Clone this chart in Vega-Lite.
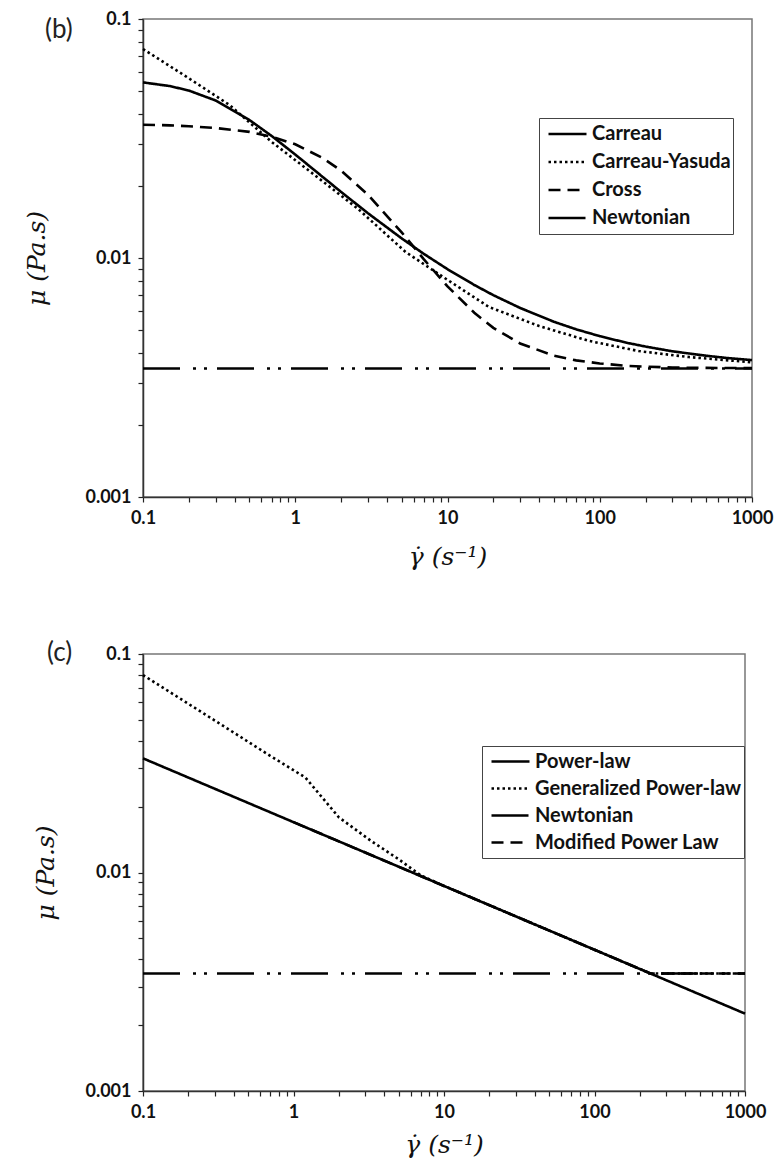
{
  "$schema": "https://vega.github.io/schema/vega-lite/v6.json",
  "background": "white",
  "padding": {"left": 24, "top": 9, "right": 5, "bottom": 5},
  "datasets": {
    "b": [
      {"model": "Carreau", "x": 0.1, "mu": 0.0543},
      {"model": "Carreau", "x": 0.15, "mu": 0.0524},
      {"model": "Carreau", "x": 0.2, "mu": 0.0502},
      {"model": "Carreau", "x": 0.3, "mu": 0.0456},
      {"model": "Carreau", "x": 0.5, "mu": 0.0378},
      {"model": "Carreau", "x": 0.7, "mu": 0.0324},
      {"model": "Carreau", "x": 1, "mu": 0.0271},
      {"model": "Carreau", "x": 1.5, "mu": 0.02195},
      {"model": "Carreau", "x": 2, "mu": 0.0189},
      {"model": "Carreau", "x": 3, "mu": 0.0154},
      {"model": "Carreau", "x": 5, "mu": 0.01208},
      {"model": "Carreau", "x": 7, "mu": 0.0104},
      {"model": "Carreau", "x": 10, "mu": 0.00898},
      {"model": "Carreau", "x": 15, "mu": 0.00771},
      {"model": "Carreau", "x": 20, "mu": 0.00699},
      {"model": "Carreau", "x": 30, "mu": 0.00618},
      {"model": "Carreau", "x": 50, "mu": 0.00541},
      {"model": "Carreau", "x": 70, "mu": 0.00503},
      {"model": "Carreau", "x": 100, "mu": 0.00471},
      {"model": "Carreau", "x": 150, "mu": 0.00442},
      {"model": "Carreau", "x": 200, "mu": 0.00426},
      {"model": "Carreau", "x": 300, "mu": 0.00407},
      {"model": "Carreau", "x": 500, "mu": 0.0039},
      {"model": "Carreau", "x": 700, "mu": 0.00381},
      {"model": "Carreau", "x": 1000, "mu": 0.00374},
      {"model": "Carreau-Yasuda", "x": 0.1, "mu": 0.0749},
      {"model": "Carreau-Yasuda", "x": 0.19, "mu": 0.0577},
      {"model": "Carreau-Yasuda", "x": 0.37, "mu": 0.0437},
      {"model": "Carreau-Yasuda", "x": 0.7, "mu": 0.0306},
      {"model": "Carreau-Yasuda", "x": 1.37, "mu": 0.022},
      {"model": "Carreau-Yasuda", "x": 2.6, "mu": 0.016},
      {"model": "Carreau-Yasuda", "x": 5.3, "mu": 0.0106},
      {"model": "Carreau-Yasuda", "x": 9.8, "mu": 0.00817},
      {"model": "Carreau-Yasuda", "x": 18.7, "mu": 0.00624},
      {"model": "Carreau-Yasuda", "x": 40, "mu": 0.00519},
      {"model": "Carreau-Yasuda", "x": 85, "mu": 0.0045},
      {"model": "Carreau-Yasuda", "x": 180, "mu": 0.00408},
      {"model": "Carreau-Yasuda", "x": 385, "mu": 0.00385},
      {"model": "Carreau-Yasuda", "x": 1000, "mu": 0.00366},
      {"model": "Cross", "x": 0.1, "mu": 0.0361},
      {"model": "Cross", "x": 0.15, "mu": 0.0359},
      {"model": "Cross", "x": 0.2, "mu": 0.0356},
      {"model": "Cross", "x": 0.3, "mu": 0.035},
      {"model": "Cross", "x": 0.5, "mu": 0.0337},
      {"model": "Cross", "x": 0.7, "mu": 0.0322},
      {"model": "Cross", "x": 1, "mu": 0.0299},
      {"model": "Cross", "x": 1.5, "mu": 0.0263},
      {"model": "Cross", "x": 2, "mu": 0.0232},
      {"model": "Cross", "x": 3, "mu": 0.0184},
      {"model": "Cross", "x": 5, "mu": 0.0128},
      {"model": "Cross", "x": 7, "mu": 0.00987},
      {"model": "Cross", "x": 10, "mu": 0.00761},
      {"model": "Cross", "x": 15, "mu": 0.0059},
      {"model": "Cross", "x": 20, "mu": 0.0051},
      {"model": "Cross", "x": 30, "mu": 0.00439},
      {"model": "Cross", "x": 50, "mu": 0.0039},
      {"model": "Cross", "x": 70, "mu": 0.00373},
      {"model": "Cross", "x": 100, "mu": 0.00362},
      {"model": "Cross", "x": 150, "mu": 0.00354},
      {"model": "Cross", "x": 200, "mu": 0.00351},
      {"model": "Cross", "x": 300, "mu": 0.00348},
      {"model": "Cross", "x": 500, "mu": 0.00347},
      {"model": "Cross", "x": 1000, "mu": 0.00346},
      {"model": "Newtonian", "x": 0.1, "mu": 0.00345},
      {"model": "Newtonian", "x": 1000, "mu": 0.00345}
    ],
    "c": [
      {"model": "Power-law", "x": 0.1, "mu": 0.0333},
      {"model": "Power-law", "x": 1, "mu": 0.017},
      {"model": "Power-law", "x": 10, "mu": 0.00868},
      {"model": "Power-law", "x": 100, "mu": 0.00443},
      {"model": "Power-law", "x": 1000, "mu": 0.00226},
      {"model": "Generalized Power-law", "x": 0.1, "mu": 0.0801},
      {"model": "Generalized Power-law", "x": 0.3, "mu": 0.0496},
      {"model": "Generalized Power-law", "x": 0.7, "mu": 0.0342},
      {"model": "Generalized Power-law", "x": 1.2, "mu": 0.0272},
      {"model": "Generalized Power-law", "x": 2, "mu": 0.0179},
      {"model": "Generalized Power-law", "x": 3.3, "mu": 0.0139},
      {"model": "Generalized Power-law", "x": 5, "mu": 0.0115},
      {"model": "Generalized Power-law", "x": 7, "mu": 0.0097},
      {"model": "Generalized Power-law", "x": 10, "mu": 0.00868},
      {"model": "Generalized Power-law", "x": 30, "mu": 0.0063},
      {"model": "Generalized Power-law", "x": 100, "mu": 0.00443},
      {"model": "Generalized Power-law", "x": 200, "mu": 0.00362},
      {"model": "Generalized Power-law", "x": 236, "mu": 0.00345},
      {"model": "Generalized Power-law", "x": 1000, "mu": 0.00345},
      {"model": "Newtonian", "x": 0.1, "mu": 0.00345},
      {"model": "Newtonian", "x": 1000, "mu": 0.00345},
      {"model": "Modified Power Law", "x": 1, "mu": 0.017},
      {"model": "Modified Power Law", "x": 10, "mu": 0.00868},
      {"model": "Modified Power Law", "x": 30, "mu": 0.0063},
      {"model": "Modified Power Law", "x": 100, "mu": 0.00443},
      {"model": "Modified Power Law", "x": 200, "mu": 0.00362},
      {"model": "Modified Power Law", "x": 236, "mu": 0.00345},
      {"model": "Modified Power Law", "x": 1000, "mu": 0.00345}
    ]
  },
  "vconcat": [
    {
      "hconcat": [
        {
          "width": 609,
          "height": 478,
          "title": {"text": "(b)", "anchor": "start", "frame": "group", "dx": -98, "dy": 33, "offset": 0, "fontSize": 26, "fontWeight": "normal", "font": "Lato", "color": "#222"},
          "data": {"name": "b"},
          "mark": {"type": "line", "color": "black", "strokeWidth": 2.6, "strokeCap": "butt"},
          "encoding": {
            "x": {
              "field": "x", "type": "quantitative",
              "scale": {"type": "log", "domain": [0.1, 1000], "nice": false},
              "axis": {
                "values": [0.1,0.2,0.3,0.4,0.5,0.6,0.7,0.8,0.9,1,2,3,4,5,6,7,8,9,10,20,30,40,50,60,70,80,90,100,200,300,400,500,600,700,800,900,1000],
                "labelExpr": "indexof([0.1,1,10,100,1000], datum.value) >= 0 ? format(datum.value, '~g') : ''",
                "title": "γ̇ (s⁻¹)", "titlePadding": 17,
                "encode": {"ticks": {"update": {"y2": {"value": -6}}}}
              }
            },
            "y": {
              "field": "mu", "type": "quantitative",
              "scale": {"type": "log", "domain": [0.001, 0.1], "nice": false},
              "axis": {
                "values": [0.001,0.002,0.003,0.004,0.005,0.006,0.007,0.008,0.009,0.01,0.02,0.03,0.04,0.05,0.06,0.07,0.08,0.09,0.1],
                "labelExpr": "indexof([0.001,0.01,0.1], datum.value) >= 0 ? format(datum.value, '~g') : ''",
                "title": "μ (Pa.s)", "titlePadding": 35,
                "encode": {"ticks": {"update": {"x2": {"value": 6}}}}
              }
            },
            "strokeDash": {
              "field": "model", "type": "nominal",
              "scale": {"domain": ["Carreau", "Carreau-Yasuda", "Cross", "Newtonian"], "range": [[1, 0], [2.5, 3], [12, 7], [37, 13, 3, 8, 3, 10]]},
              "legend": {"legendX": 396, "legendY": 99}
            }
          }
        }
      ]
    },
    {
      "hconcat": [
        {
          "width": 602,
          "height": 437,
          "title": {"text": "(c)", "anchor": "start", "frame": "group", "dx": -96, "dy": 21, "offset": 0, "fontSize": 26, "fontWeight": "normal", "font": "Lato", "color": "#222"},
          "data": {"name": "c"},
          "mark": {"type": "line", "color": "black", "strokeWidth": 2.6, "strokeCap": "butt"},
          "encoding": {
            "x": {
              "field": "x", "type": "quantitative",
              "scale": {"type": "log", "domain": [0.1, 1000], "nice": false},
              "axis": {
                "values": [0.1,0.2,0.3,0.4,0.5,0.6,0.7,0.8,0.9,1,2,3,4,5,6,7,8,9,10,20,30,40,50,60,70,80,90,100,200,300,400,500,600,700,800,900,1000],
                "labelExpr": "indexof([0.1,1,10,100,1000], datum.value) >= 0 ? format(datum.value, '~g') : ''",
                "title": "γ̇ (s⁻¹)", "titlePadding": 11,
                "encode": {"ticks": {"update": {"y2": {"value": -6}}}}
              }
            },
            "y": {
              "field": "mu", "type": "quantitative",
              "scale": {"type": "log", "domain": [0.001, 0.1], "nice": false},
              "axis": {
                "values": [0.001,0.002,0.003,0.004,0.005,0.006,0.007,0.008,0.009,0.01,0.02,0.03,0.04,0.05,0.06,0.07,0.08,0.09,0.1],
                "labelExpr": "indexof([0.001,0.01,0.1], datum.value) >= 0 ? format(datum.value, '~g') : ''",
                "title": "μ (Pa.s)", "titlePadding": 26,
                "encode": {"ticks": {"update": {"x2": {"value": 6}}}}
              }
            },
            "strokeDash": {
              "field": "model", "type": "nominal",
              "scale": {"domain": ["Power-law", "Generalized Power-law", "Newtonian", "Modified Power Law"], "range": [[1, 0], [2.5, 3], [37, 13, 3, 8, 3, 10], [12, 7]]},
              "legend": {"legendX": 339, "legendY": 92, "clipHeight": 27}
            }
          }
        }
      ]
    }
  ],
  "spacing": 69,
  "resolve": {"scale": {"strokeDash": "independent"}, "legend": {"strokeDash": "independent"}},
  "config": {
    "font": "Lato",
    "view": {"stroke": "#777", "strokeWidth": 1.5},
    "axis": {
      "grid": false,
      "domainColor": "#333", "domainWidth": 1.5,
      "tickColor": "#222", "tickSize": 5, "tickWidth": 1.2,
      "labelFont": "Lato", "labelFontWeight": "bold", "labelFontSize": 18, "labelColor": "#111",
      "labelOverlap": false, "labelFlush": false, "labelBound": false, "labelPadding": 7,
      "titleFont": "DejaVu Serif", "titleFontStyle": "italic", "titleFontWeight": "normal", "titleFontSize": 25, "titleColor": "#111"
    },
    "legend": {
      "orient": "none", "title": null,
      "strokeColor": "#444", "fillColor": "white", "padding": 2,
      "labelFont": "Lato", "labelFontWeight": "bold", "labelFontSize": 20, "labelColor": "#111", "labelOffset": 4, "labelLimit": 400,
      "symbolType": "stroke", "symbolStrokeWidth": 2.6, "symbolSize": 1444, "symbolStrokeColor": "black", "symbolOffset": 6,
      "clipHeight": 28, "rowPadding": 0
    }
  }
}
